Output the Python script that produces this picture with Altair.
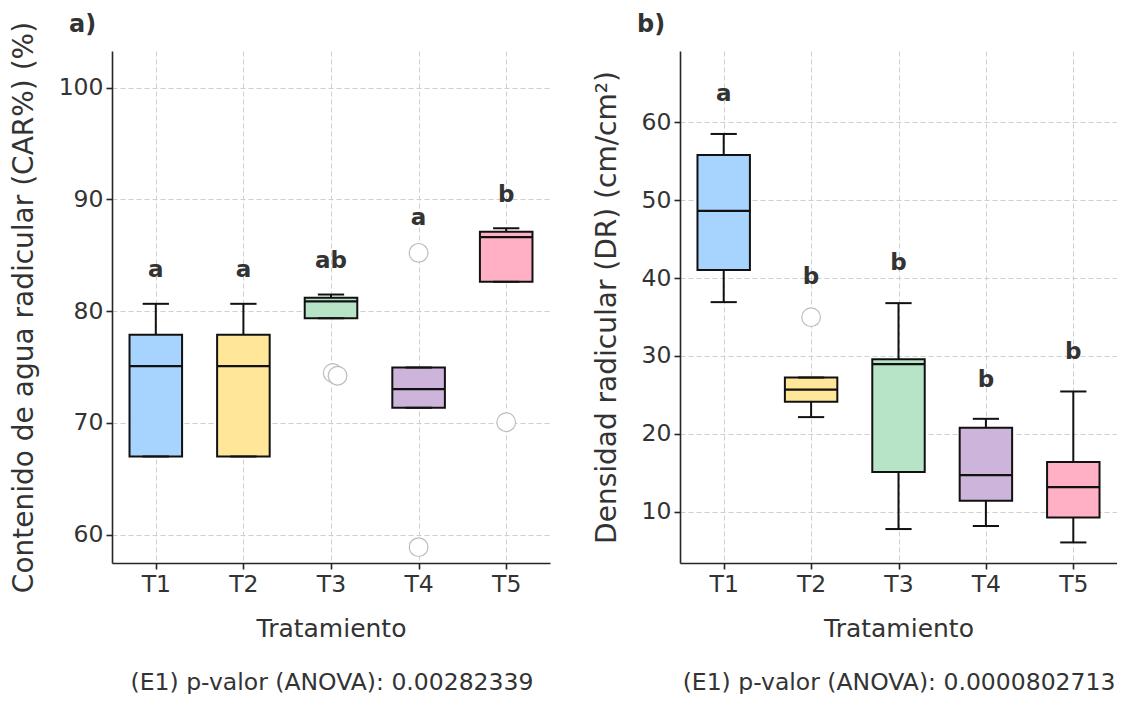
import altair as alt
import pandas as pd

treatments = ["T1", "T2", "T3", "T4", "T5"]
positions = [1, 2, 3, 4, 5]
colors = ["#A6D4FF", "#FFE699", "#B7E4C7", "#CDB4DB", "#FFB0C5"]

# Panel a) Contenido de agua radicular
car_low = [67.0, 67.0, 79.37, 71.36, 82.63]
car_q1 = [67.0, 67.0, 79.37, 71.36, 82.63]
car_med = [75.08, 75.08, 80.87, 73.02, 86.62]
car_q3 = [77.89, 77.89, 81.20, 74.96, 87.10]
car_high = [80.66, 80.66, 81.49, 74.96, 87.42]
car_letters = ["a", "a", "ab", "a", "b"]
car_letter_y = [83.04, 83.04, 83.85, 87.75, 89.75]
car_out_trat = ["T3", "T3", "T4", "T4", "T5"]
car_out_val = [74.47, 74.23, 85.22, 58.89, 70.07]
car_out_dx = [0.02, 0.075, 0.0, 0.0, 0.0]
car_ticks = [60, 70, 80, 90, 100]
car_domain = [57.47, 103.28]

# Panel b) Densidad radicular
dr_low = [36.91, 22.15, 7.78, 8.17, 6.06]
dr_q1 = [41.05, 24.11, 15.09, 11.41, 9.27]
dr_med = [48.62, 25.69, 28.95, 14.71, 13.17]
dr_q3 = [55.80, 27.23, 29.59, 20.78, 16.38]
dr_high = [58.50, 27.23, 36.78, 21.93, 25.44]
dr_letters = ["a", "b", "b", "b", "b"]
dr_letter_y = [62.77, 39.23, 40.98, 26.07, 29.67]
dr_out_trat = ["T2"]
dr_out_val = [34.98]
dr_out_dx = [0.0]
dr_ticks = [10, 20, 30, 40, 50, 60]
dr_domain = [3.42, 69.15]

TEXT = "#333333"
LINE = "#111111"


def panel(tag, low, q1, med, q3, high, letters, letter_y, out_t, out_v, out_dx,
          domain, ticks, ytitle, footer, footer_x, width):
    df = pd.DataFrame({"trat": treatments, "pos": positions, "low": low, "q1": q1,
                       "med": med, "q3": q3, "high": high,
                       "letter": letters, "letter_y": letter_y})
    odf = pd.DataFrame({"trat": out_t, "val": out_v, "dx": out_dx,
                        "pos": [positions[treatments.index(t)] for t in out_t]})
    xs = alt.Scale(domain=[0.5, 5.5], nice=False, zero=False)
    ys = alt.Scale(domain=domain, nice=False, zero=False)
    xaxis = alt.Axis(values=positions, title="Tratamiento", grid=True, labelFlush=False,
                     labelExpr="['T1','T2','T3','T4','T5'][datum.value-1]")
    yaxis = alt.Axis(values=ticks, title=ytitle, grid=True)

    def X(f):
        return alt.X(f, type="quantitative", scale=xs, axis=xaxis)

    def Y(f):
        return alt.Y(f, type="quantitative", scale=ys, axis=yaxis)

    color = alt.Color("trat:N", scale=alt.Scale(domain=treatments, range=colors), legend=None)
    base = alt.Chart(df).transform_calculate(
        x1="datum.pos - 0.3", x2="datum.pos + 0.3",
        c1="datum.pos - 0.15", c2="datum.pos + 0.15")

    boxes = base.mark_rect(stroke=LINE, strokeWidth=2, opacity=1).encode(
        x=X("x1"), x2="x2:Q", y=Y("q1"), y2="q3:Q", color=color)
    wh_hi = base.mark_rule(color=LINE, strokeWidth=2).encode(x=X("pos"), y=Y("q3"), y2="high:Q")
    wh_lo = base.mark_rule(color=LINE, strokeWidth=2).encode(x=X("pos"), y=Y("low"), y2="q1:Q")
    cap_hi = base.mark_rule(color=LINE, strokeWidth=2).encode(x=X("c1"), x2="c2:Q", y=Y("high"))
    cap_lo = base.mark_rule(color=LINE, strokeWidth=2).encode(x=X("c1"), x2="c2:Q", y=Y("low"))
    medl = base.mark_rule(color=LINE, strokeWidth=2.2).encode(x=X("x1"), x2="x2:Q", y=Y("med"))
    outl = alt.Chart(odf).transform_calculate(px="datum.pos + datum.dx").mark_point(
        shape="circle", size=350, filled=True, fill="white", stroke="#bdbdbd",
        strokeWidth=1.2, opacity=1).encode(x=X("px"), y=Y("val"))
    lets = base.mark_text(font="DejaVu Sans", fontSize=23, fontWeight="bold", color=TEXT,
                          baseline="alphabetic", align="center").encode(
        x=X("pos"), y=Y("letter_y"), text="letter:N")
    tagc = alt.Chart(pd.DataFrame({"t": [tag]})).mark_text(
        font="DejaVu Sans", fontSize=24, fontWeight="bold", color=TEXT,
        align="left", baseline="middle").encode(
        text="t:N", x=alt.value(-43), y=alt.value(-26))
    foot = alt.Chart(pd.DataFrame({"t": [footer]})).mark_text(
        font="DejaVu Sans", fontSize=23.5, color=TEXT,
        align="center", baseline="alphabetic").encode(
        text="t:N", x=alt.value(footer_x), y=alt.value(638.5))
    return alt.layer(boxes, wh_hi, wh_lo, cap_hi, cap_lo, medl, outl, lets, tagc, foot).properties(
        width=width, height=512)


left = panel("a)", car_low, car_q1, car_med, car_q3, car_high, car_letters, car_letter_y,
             car_out_trat, car_out_val, car_out_dx, car_domain, car_ticks,
             "Contenido de agua radicular (CAR%) (%)",
             "(E1) p-valor (ANOVA): 0.00282339", 220, 438)
right = panel("b)", dr_low, dr_q1, dr_med, dr_q3, dr_high, dr_letters, dr_letter_y,
              dr_out_trat, dr_out_val, dr_out_dx, dr_domain, dr_ticks,
              "Densidad radicular (DR) (cm/cm²)",
              "(E1) p-valor (ANOVA): 0.0000802713", 219, 437)

chart = alt.hconcat(left, right, spacing=43).properties(
    padding={"left": 2, "top": 5, "right": 0, "bottom": 0}
).configure_view(stroke=None).configure_axis(
    labelFont="DejaVu Sans", titleFont="DejaVu Sans", labelColor=TEXT, titleColor=TEXT,
    titleFontWeight="normal", labelFontSize=23.5, domainColor="#262626", domainWidth=1.6,
    tickColor="#262626", tickWidth=1.6, tickSize=6, labelPadding=3,
    gridColor="#cfcfcf", gridDash=[5, 3], gridWidth=1
).configure_axisX(titleFontSize=25, titlePadding=21, labelAngle=0
).configure_axisY(titleFontSize=28, titlePadding=20)

chart.save("out.html", embed_options={"renderer": "svg", "actions": False})
